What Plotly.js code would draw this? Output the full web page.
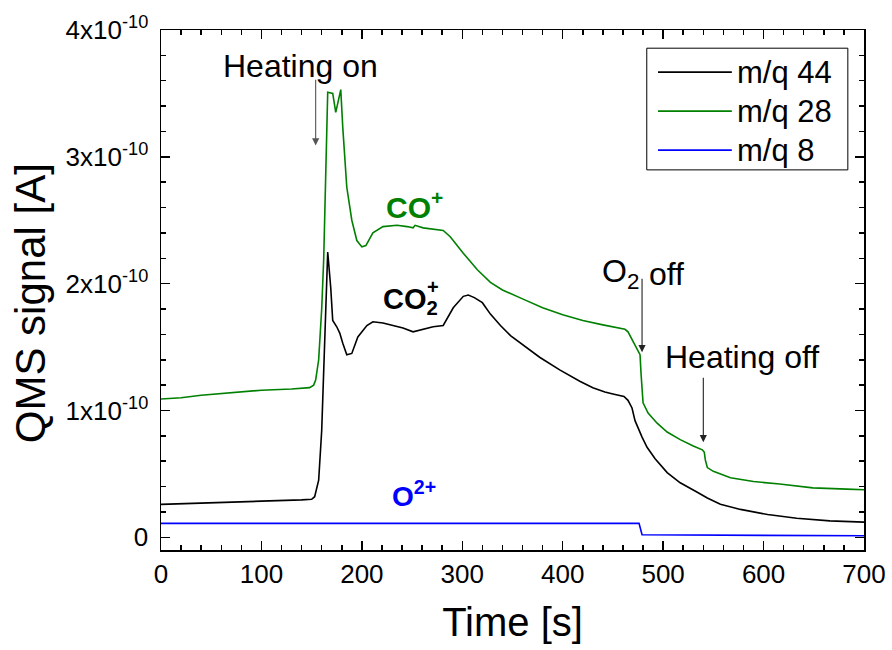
<!DOCTYPE html>
<html>
<head>
<meta charset="utf-8">
<script src="https://cdn.plot.ly/plotly-3.0.1.min.js"></script>
<style>html,body{margin:0;padding:0;background:#fff;}#chart{width:892px;height:650px;}</style>
</head>
<body>
<div id="chart"></div>
<script>
// Values of the QMS signal in units of 1e-10 A
const t44 = [0,50,100,140,150,153,157,160,162,164,166,169,171,175,178,181,185,190,196,205,211,221,231,241,251,261,271,281,291,301,306,312,320,328,338,348,363,377,397,417,430,442,450,461,465,469,472,477,479,484,492,504,517,534,544,557,577,604,633,666,700];
const y44 = [0.26,0.27,0.285,0.295,0.30,0.32,0.45,0.84,1.32,1.87,2.25,1.97,1.71,1.66,1.61,1.53,1.44,1.45,1.58,1.67,1.70,1.69,1.67,1.65,1.62,1.64,1.66,1.67,1.81,1.90,1.91,1.89,1.85,1.76,1.67,1.59,1.50,1.42,1.32,1.23,1.18,1.145,1.13,1.11,1.08,1.02,0.92,0.82,0.79,0.71,0.62,0.51,0.43,0.355,0.31,0.26,0.22,0.18,0.15,0.13,0.12];

const t28 = [0,20,40,70,100,130,148,152,154,157,160,162,164,166,171,174,179,181,185,190,195,200,204,211,221,235,245,251,253,261,281,288,301,315,328,340,360,380,400,420,440,452,462,465,470,474,477,478,479,480,485,494,504,517,530,539,541,542,544,550,567,590,616,649,683,700];
const y28 = [1.09,1.10,1.12,1.14,1.16,1.17,1.18,1.20,1.24,1.40,1.80,2.19,3.00,3.51,3.50,3.35,3.53,3.23,2.76,2.50,2.34,2.29,2.30,2.40,2.45,2.46,2.45,2.44,2.46,2.44,2.42,2.37,2.24,2.11,2.01,1.95,1.88,1.81,1.755,1.71,1.675,1.655,1.64,1.62,1.54,1.48,1.44,1.29,1.14,1.06,0.98,0.90,0.83,0.77,0.72,0.69,0.67,0.61,0.55,0.52,0.47,0.44,0.42,0.39,0.38,0.375];

const t8 = [0,100,200,300,400,470,476,479,550,620,700];
const y8 = [0.11,0.11,0.112,0.11,0.112,0.11,0.11,0.02,0.018,0.015,0.012];

const seriesNames = ['m/q 44','m/q 28','m/q 8'];
const seriesColors = ['#000000','#008000','#0000ff'];

const yTickVals = [0,1,2,3,4];
const yTickText = ['0','1x10<sup>-10</sup>','2x10<sup>-10</sup>','3x10<sup>-10</sup>','4x10<sup>-10</sup>'];

const FONT = 'Arial, "Liberation Sans", sans-serif';

const traces = [
  {x:t44, y:y44, name:seriesNames[0], mode:'lines', line:{color:seriesColors[0], width:1.6}, showlegend:false},
  {x:t28, y:y28, name:seriesNames[1], mode:'lines', line:{color:seriesColors[1], width:1.6}, showlegend:false},
  {x:t8, y:y8, name:seriesNames[2], mode:'lines', line:{color:seriesColors[2], width:1.6}, showlegend:false}
];

// legend drawn in paper coordinates
const legX0 = 0.691, legX1 = 0.977, legY0 = 0.731, legY1 = 0.965;
const legRows = [0.919, 0.844, 0.769];
const shapes = [
  {type:'rect', xref:'paper', yref:'paper', x0:legX0, x1:legX1, y0:legY0, y1:legY1, line:{color:'#000', width:1}, fillcolor:'rgba(255,255,255,0)'}
];
const annotations = [];
seriesNames.forEach((n,i)=>{
  shapes.push({type:'line', xref:'paper', yref:'paper', x0:0.707, x1:0.812, y0:legRows[i], y1:legRows[i], line:{color:seriesColors[i], width:1.6}});
  annotations.push({xref:'paper', yref:'paper', x:0.816, y:legRows[i], xanchor:'left', yanchor:'middle', text:n, showarrow:false, font:{family:FONT, size:31, color:'#000'}});
});

const txt = (x,y,text,opts)=>Object.assign({x:x, y:y, xref:'x', yref:'y', text:text, showarrow:false, font:{family:FONT, size:32, color:'#000'}}, opts||{});
const arrow = (x,y0,y1,color)=>({x:x, y:y1, ax:x, ay:y0, xref:'x', yref:'y', axref:'x', ayref:'y', text:'', showarrow:true, arrowhead:2, arrowsize:1.3, arrowwidth:1.1, arrowcolor:color});

annotations.push(
  txt(139, 3.72, 'Heating on'),
  arrow(154, 3.62, 3.09, '#555'),
  txt(477.5, 2.08, 'O<sub>2</sub>', {xanchor:'right'}),
  txt(484, 2.08, 'off', {xanchor:'left'}),
  arrow(479, 2.05, 1.46, '#222'),
  txt(579, 1.42, 'Heating off'),
  arrow(540, 1.27, 0.75, '#222'),
  txt(222, 2.62, '<b>CO<sup>+</sup></b>', {xanchor:'left', font:{family:FONT, size:30, color:'#008000'}}),
  txt(219, 1.86, '<b>CO<sub>2</sub></b>', {xanchor:'left', font:{family:FONT, size:29, color:'#000'}}),
  txt(271, 1.97, '<b>+</b>', {xanchor:'center', font:{family:FONT, size:20, color:'#000'}}),
  txt(228, 0.34, '<b>O<sup>2+</sup></b>', {xanchor:'left', font:{family:FONT, size:28, color:'#0000ff'}}),
  // y-axis title
  {xref:'paper', yref:'paper', x:-0.186, y:0.475, xanchor:'center', yanchor:'middle', textangle:-90, text:'QMS signal [A]', showarrow:false, font:{family:FONT, size:42, color:'#000'}}
);

const axisCommon = {
  showgrid:false, zeroline:false, showline:true, linecolor:'#000', linewidth:1.5,
  mirror:'allticks', ticks:'inside', ticklen:9, tickwidth:1.5, tickcolor:'#000',
  tickfont:{family:FONT, size:26, color:'#000'}
};

const layout = {
  width:892, height:650,
  margin:{l:161, r:28, t:30, b:100, pad:0},
  paper_bgcolor:'#fff', plot_bgcolor:'#fff',
  showlegend:false,
  xaxis:Object.assign({}, axisCommon, {
    range:[0,700], tickmode:'linear', tick0:0, dtick:100,
    minor:{dtick:20, tick0:0, ticks:'inside', ticklen:5, tickwidth:1.5, tickcolor:'#000'},
    title:{text:'Time [s]', font:{family:FONT, size:40, color:'#000'}, standoff:20}
  }),
  yaxis:Object.assign({}, axisCommon, {
    range:[-0.1,4], tickmode:'array', tickvals:yTickVals, ticktext:yTickText,
    minor:{dtick:0.2, tick0:0, ticks:'inside', ticklen:5, tickwidth:1.5, tickcolor:'#000'},
    ticklabelstandoff:6
  }),
  shapes:shapes,
  annotations:annotations
};

Plotly.newPlot('chart', traces, layout, {staticPlot:true, displayModeBar:false});
</script>
</body>
</html>
